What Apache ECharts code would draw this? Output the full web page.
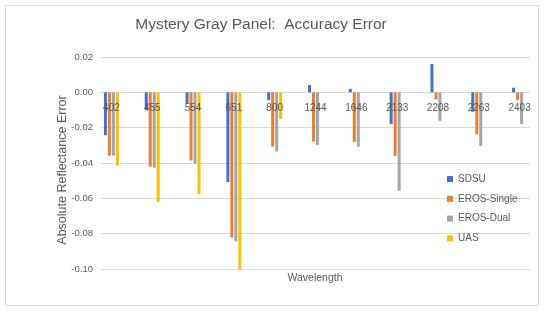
<!DOCTYPE html>
<html>
<head>
<meta charset="utf-8">
<script src="https://cdn.jsdelivr.net/npm/echarts@6/dist/echarts.min.js"></script>
<style>
html,body{margin:0;padding:0;background:#fff;}
#chart{width:550px;height:311px;}
</style>
</head>
<body>
<div id="chart"></div>
<script>
var categories = ['402','455','554','651','800','1244','1646','2133','2208','2263','2403'];
var sdsu       = [-0.0243,-0.0100,-0.0062,-0.0508,-0.0044, 0.0041, 0.0020,-0.0180, 0.0160,-0.0110, 0.0026];
var erosSingle = [-0.0358,-0.0420,-0.0386,-0.0821,-0.0307,-0.0279,-0.0280,-0.0360,-0.0040,-0.0237,-0.0044];
var erosDual   = [-0.0358,-0.0426,-0.0403,-0.0844,-0.0335,-0.0298,-0.0307,-0.0558,-0.0162,-0.0303,-0.0180];
var uas        = [-0.0415,-0.0621,-0.0576,-0.1000,-0.0151, null, null, null, null, null, null];
var seriesNames = ['SDSU','EROS-Single','EROS-Dual','UAS'];
var colors = ['#4472C4','#ED7D31','#A5A5A5','#FFC000'];
var yMin = -0.1, yMax = 0.02, yStep = 0.02;

var txt = '#595959';
var fontFam = '"Liberation Sans", Arial, sans-serif';
var gridTop = 57, gridBottom = 42, H = 311;
var plotH = H - gridTop - gridBottom;
// move the category axis (and its labels) up to the value 0
var zeroOffset = -plotH * (0 - yMin) / (yMax - yMin);

var chart = echarts.init(document.getElementById('chart'), null, {renderer:'canvas'});

function bar(name, data, color){
  return {name:name, type:'bar', xAxisIndex:0, yAxisIndex:0, data:data,
    barWidth:3, barGap:'33%', itemStyle:{color:color}, silent:true};
}

chart.setOption({
  animation:false,
  textStyle:{fontFamily:fontFam},
  grid:[
    {left:91, right:10, top:gridTop, bottom:gridBottom, containLabel:false},
    {left:101, right:20, top:gridTop, bottom:gridBottom, containLabel:false}
  ],
  xAxis:[
    {type:'category', gridIndex:0, data:categories, position:'bottom', offset:zeroOffset,
      axisLine:{show:false, onZero:false},
      axisTick:{show:false},
      axisLabel:{color:txt, fontSize:10, margin:11, fontFamily:fontFam, interval:0},
      splitLine:{show:false}, z:10},
    {type:'category', gridIndex:1, data:categories, show:false}
  ],
  yAxis:[
    {type:'value', gridIndex:0, min:yMin, max:yMax, interval:yStep,
      axisLine:{show:false}, axisTick:{show:false}, axisLabel:{show:false}, splitLine:{show:false}},
    {type:'value', gridIndex:1, min:yMin, max:yMax, interval:yStep,
      axisLine:{show:false}, axisTick:{show:false},
      axisLabel:{color:txt, fontSize:9.5, margin:8, fontFamily:fontFam,
        formatter:function(v){return v.toFixed(2);}},
      splitLine:{show:true, lineStyle:{color:'#d9d9d9', width:1}}}
  ],
  legend:{orient:'vertical', left:442, top:169, itemWidth:6, itemHeight:6, itemGap:9.8,
    icon:'rect', data:seriesNames,
    textStyle:{color:txt, fontSize:10, lineHeight:10, fontFamily:fontFam}},
  series:[
    bar(seriesNames[0], sdsu, colors[0]),
    bar(seriesNames[1], erosSingle, colors[1]),
    bar(seriesNames[2], erosDual, colors[2]),
    bar(seriesNames[3], uas, colors[3])
  ],
  graphic:[
    {type:'rect', shape:{x:5.5, y:5.5, width:533, height:300}, style:{fill:'none', stroke:'#d9d9d9', lineWidth:1}, silent:true, z:-1},
    {type:'text', x:261, y:25, style:{text:'Mystery Gray Panel:  Accuracy Error', fill:txt, font:'15.5px "Liberation Sans", Arial, sans-serif', textAlign:'center', textVerticalAlign:'middle'}},
    {type:'text', x:315, y:278, style:{text:'Wavelength', fill:txt, font:'10.5px "Liberation Sans", Arial, sans-serif', textAlign:'center', textVerticalAlign:'middle'}},
    {type:'text', x:63, y:170, rotation:Math.PI/2, style:{text:'Absolute Reflectance Error', fill:txt, font:'12.5px "Liberation Sans", Arial, sans-serif', textAlign:'center', textVerticalAlign:'middle'}}
  ]
});
</script>
</body>
</html>
